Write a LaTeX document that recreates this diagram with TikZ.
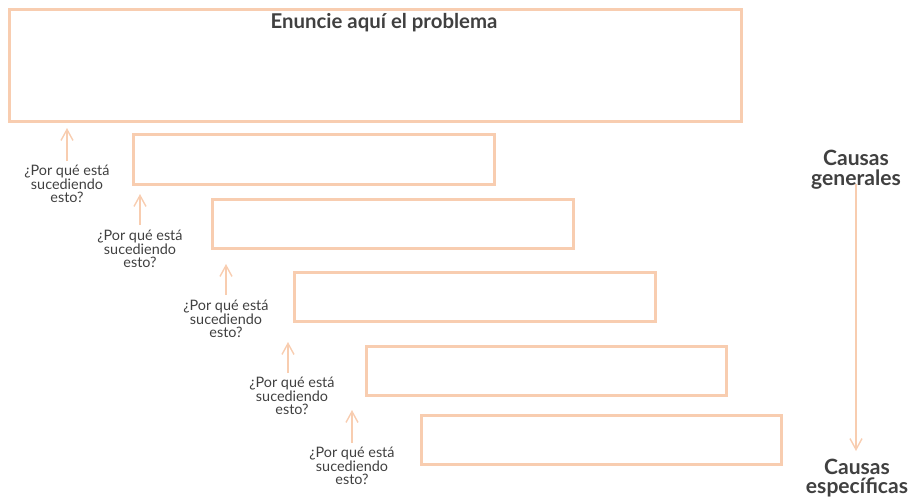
\documentclass[tikz,border=0pt]{standalone}
\usepackage{fontspec}
\setmainfont{Lato}
\usepackage{xcolor}
\usetikzlibrary{arrows.meta,positioning}
\definecolor{peach}{HTML}{F8CDB0}
\definecolor{ink}{HTML}{404040}

\begin{document}
\begin{tikzpicture}[x=0.02cm,y=-0.02cm,font=\fontsize{8.2}{7.6}\selectfont,text=ink,
box/.style={draw=peach,line width=1.7pt,anchor=north west,inner sep=0pt},
why/.style={align=center,anchor=north,inner sep=0pt},
side/.style={align=center,font=\fontsize{12}{11.2}\selectfont\bfseries,inner sep=0pt},
up/.style={draw=peach,line width=0.8pt,-{Straight Barb[length=2.2mm,width=2.4mm,line width=0.8pt]}}]
\useasboundingbox (0,0) rectangle (912,498);
% problem box
\node[box,minimum width=732*0.02cm,minimum height=112*0.02cm] (p) at (8,8) {};
\node[font=\fontsize{11.6}{12}\selectfont\bfseries] (t) at (384,23) {Enuncie aquí el problema};
% cause boxes
\node[box,minimum width=361*0.02cm,minimum height=50*0.02cm] (b1) at (132,133) {};
\node[box,minimum width=361*0.02cm,minimum height=49*0.02cm] (b2) at (211,198) {};
\node[box,minimum width=361*0.02cm,minimum height=49*0.02cm] (b3) at (293,271) {};
\node[box,minimum width=360*0.02cm,minimum height=49*0.02cm] (b4) at (365,345) {};
\node[box,minimum width=360*0.02cm,minimum height=49*0.02cm] (b5) at (420,414) {};
% questions
\node[why] (q1) at (67,165) {¿Por qué está\\sucediendo\\esto?};
\node[why] (q2) at (140,230) {¿Por qué está\\sucediendo\\esto?};
\node[why] (q3) at (226,300) {¿Por qué está\\sucediendo\\esto?};
\node[why] (q4) at (292,377) {¿Por qué está\\sucediendo\\esto?};
\node[why] (q5) at (352,447) {¿Por qué está\\sucediendo\\esto?};
\coordinate (a1) at (67,128);
\coordinate (a2) at (140,194);
\coordinate (a3) at (226,264);
\coordinate (a4) at (288,342);
\coordinate (a5) at (352,410);
\draw[up] (67,161) -- (a1);
\draw[up] (140,225) -- (a2);
\draw[up] (226,295) -- (a3);
\draw[up] (288,373) -- (a4);
\draw[up] (352,443) -- (a5);
% right side
\node[side] (g) at (856,170) {Causas\\generales};
\node[side] (e) at (857,478) {Causas\\específicas};
\draw[up] (g.south) ++(0,-6) coordinate (gs) (gs) -- (856,451);
\end{tikzpicture}
\end{document}
